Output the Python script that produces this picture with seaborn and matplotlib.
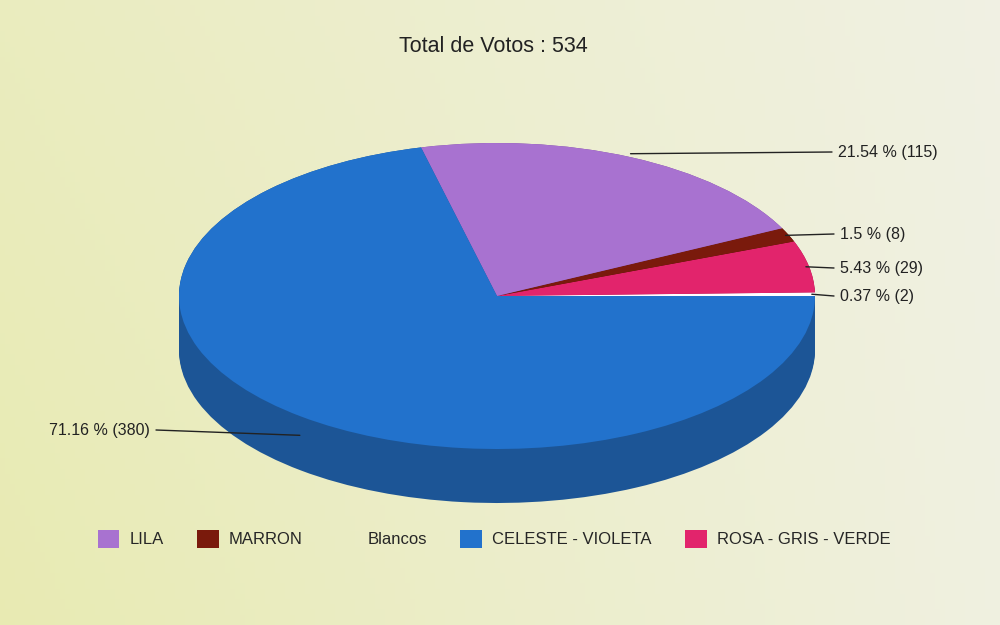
import numpy as np
import matplotlib.pyplot as plt
import seaborn as sns
from matplotlib.patches import Patch

sns.set_theme(style="white")
plt.rcParams['font.family'] = ['Liberation Sans', 'DejaVu Sans']

# slices, counterclockwise from 3 o'clock
labels = ['Blancos', 'ROSA - GRIS - VERDE', 'MARRON', 'LILA', 'CELESTE - VIOLETA']
votes = [2, 29, 8, 115, 380]
pcts = ['0.37 % (2)', '5.43 % (29)', '1.5 % (8)', '21.54 % (115)', '71.16 % (380)']
top_colors = ['#ffffff', '#e2246c', '#7a1a0c', '#a872d0', '#2272cc']
side_colors = ['#d0d0d0', '#a01448', '#4a0e06', '#7a4a9a', '#1c5596']
legend_order = ['LILA', 'MARRON', 'Blancos', 'CELESTE - VIOLETA', 'ROSA - GRIS - VERDE']

fig = plt.figure(figsize=(10, 6.25), dpi=100)

# background gradient
bg = fig.add_axes([0, 0, 1, 1])
gx = np.linspace(0, 1, 200)
gy = np.linspace(0, 1, 120)
X, Y = np.meshgrid(gx, gy)
t = np.clip(0.6 * X + 0.2 * (1 - Y) + 0.15 * X * Y, 0, 1)
c0 = np.array([0.91, 0.92, 0.70])
c1 = np.array([0.95, 0.95, 0.94])
img = c0[None, None, :] * (1 - t[..., None]) + c1[None, None, :] * t[..., None]
bg.imshow(img, aspect='auto', extent=[0, 1, 0, 1])
bg.axis('off')

ax = fig.add_axes([0, 0, 1, 1])
ax.patch.set_alpha(0)
cx, cy, rx, ry = 497, 329, 318, 153
depth = 54 / ry

# side band: stack of darker pies
for off in np.linspace(-depth, 0, 30):
    ax.pie(votes, colors=side_colors, startangle=0, counterclock=True,
           center=(0, off), radius=1, wedgeprops=dict(linewidth=0))
ax.pie(votes, colors=top_colors, startangle=0, counterclock=True,
       center=(0, 0), radius=1, wedgeprops=dict(linewidth=0))
ax.set_aspect('auto')
ax.set_xlim(-cx / rx, (1000 - cx) / rx)
ax.set_ylim(-cy / ry, (625 - cy) / ry)
ax.axis('off')

# labels with leader lines
total = sum(votes)
cum = np.cumsum([0] + votes) / total * 360
text_pos = [(840, 329), (840, 357), (840, 391), (838, 473), (150, 195)]
line_end = [(834, 329), (834, 357), (834, 391), (832, 473), (156, 195)]
for i, p in enumerate(pcts):
    mid = np.radians((cum[i] + cum[i + 1]) / 2)
    px, py = np.cos(mid) * 0.99, np.sin(mid) * 0.99
    if i == 3:
        px, py = 0.42, 0.93
    if i == 4:
        px, py = -0.62, np.sin(mid) - depth * 0.35
    ha = 'right' if i == 4 else 'left'
    tx, ty = text_pos[i]
    ax.text(tx, ty, p, transform=None, ha=ha, va='center', fontsize=11.5,
            color='#222222')
    ex, ey = line_end[i]
    ax.annotate('', xy=(px, py), xycoords='data', xytext=(ex, ey),
                textcoords='figure pixels',
                arrowprops=dict(arrowstyle='-', color='#222222', lw=1,
                                shrinkA=0, shrinkB=0))

fig.text(0.493, 0.925, 'Total de Votos : 534', ha='center', va='center',
         fontsize=15.5, color='#222222')

cmap = dict(zip(labels, top_colors))
handles = [Patch(facecolor=cmap[l] if l != 'Blancos' else 'none',
                 edgecolor='none', label=l) for l in legend_order]
fig.legend(handles=handles, loc='center', bbox_to_anchor=(0.494, 0.138), ncol=5,
           frameon=False, fontsize=12, handlelength=1.3, handleheight=1.3,
           columnspacing=2.0, handletextpad=0.6)

fig.savefig('out.png', dpi=100)
